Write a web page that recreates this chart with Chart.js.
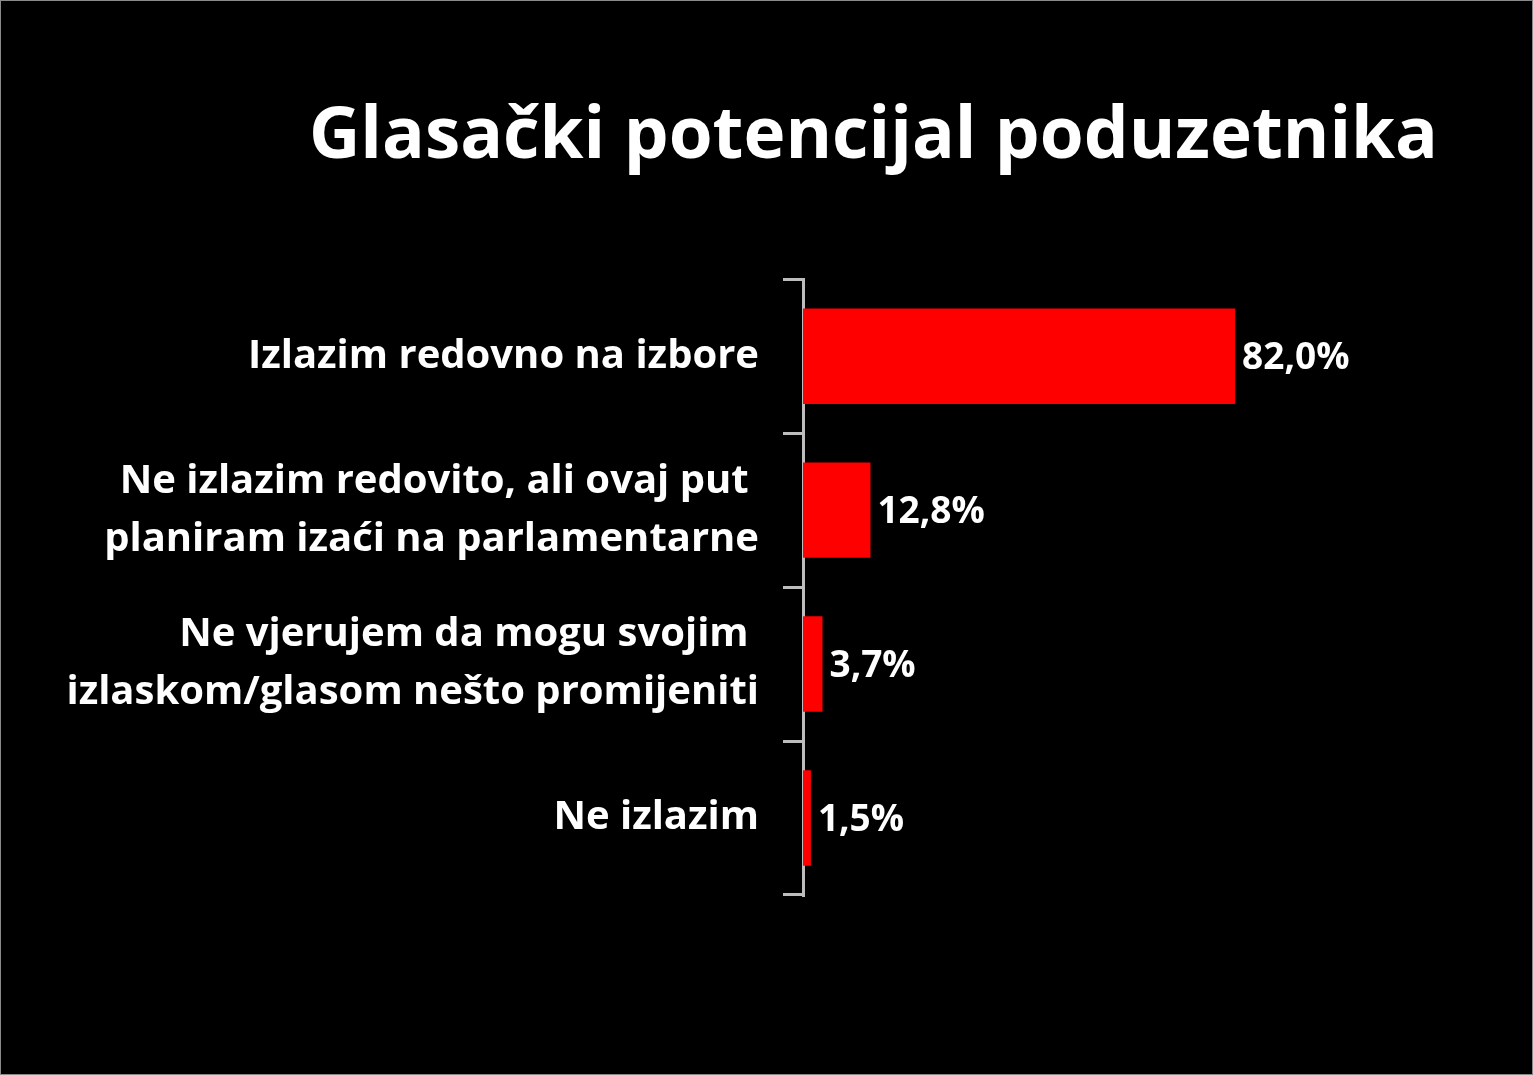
<!DOCTYPE html>
<html>
<head>
<meta charset="utf-8">
<script src="https://cdn.jsdelivr.net/npm/chart.js@4"></script>
<style>
	html, body { margin: 0; padding: 0; background: #000; }
	#wrap { width: 1533px; height: 1075px; position: relative; }
</style>
</head>
<body>
<div id="wrap"><canvas id="voteChart"></canvas></div>
<script>
// Glasački potencijal poduzetnika

const categories = [
	'Izlazim redovno na izbore',
	['Ne izlazim redovito, ali ovaj put ', 'planiram izaći na parlamentarne'],
	['Ne vjerujem da mogu svojim ', 'izlaskom/glasom nešto promijeniti'],
	'Ne izlazim'
];
const shares = [82.0, 12.8, 3.7, 1.5];
const valueLabels = ['82,0%', '12,8%', '3,7%', '1,5%'];

const FONT = '"Open Sans", Lato, sans-serif';

// black page with thin grey frame
const frame = {
	id: 'frame',
	beforeDraw(chart) {
		const c = chart.ctx;
		c.save();
		c.fillStyle = '#000';
		c.fillRect(0, 0, chart.width, chart.height);
		c.strokeStyle = '#8a8a8a';
		c.lineWidth = 1;
		c.strokeRect(0.5, 0.5, chart.width - 1, chart.height - 1);
		c.restore();
	}
};

// value labels at the end of each bar
const barValues = {
	id: 'barValues',
	afterDatasetsDraw(chart) {
		const c = chart.ctx;
		const meta = chart.getDatasetMeta(0);
		c.save();
		c.fillStyle = '#fff';
		c.font = 'bold 37px ' + FONT;
		c.textAlign = 'left';
		c.textBaseline = 'middle';
		meta.data.forEach((bar, i) => {
			c.fillText(valueLabels[i], bar.x + 7, bar.y + 2);
		});
		c.restore();
	}
};

new Chart(document.getElementById('voteChart'), {
	type: 'bar',
	data: {
		labels: categories,
		datasets: [{
			data: shares,
			backgroundColor: '#ff0000',
			borderWidth: 0,
			barPercentage: 0.62,
			categoryPercentage: 1
		}]
	},
	options: {
		indexAxis: 'y',
		responsive: true,
		maintainAspectRatio: false,
		animation: false,
		layout: { padding: { top: 0, right: 95, bottom: 180, left: 0 } },
		scales: {
			x: { display: false, min: 0, max: 120.5 },
			y: {
				afterFit: s => { s.width = 803; },
				grid: {
					drawOnChartArea: false,
					color: '#bdbdbd',
					lineWidth: 3,
					tickLength: 20
				},
				border: { color: '#bdbdbd', width: 3 },
				ticks: {
					color: '#fff',
					padding: 24,
					font: { family: FONT, size: 40, weight: 'bold', lineHeight: 1.45 }
				}
			}
		},
		plugins: {
			legend: { display: false },
			tooltip: { enabled: false },
			title: {
				display: true,
				text: 'Glasački potencijal poduzetnika',
				align: 'end',
				color: '#fff',
				font: { family: FONT, size: 71, weight: 'bold', lineHeight: 1.2 },
				padding: { top: 95, bottom: 99 }
			}
		}
	},
	plugins: [frame, barValues]
});
</script>
</body>
</html>
